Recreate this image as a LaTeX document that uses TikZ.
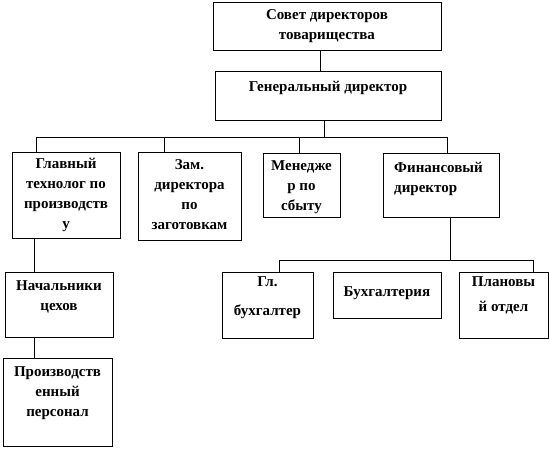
\documentclass[tikz,border=0pt]{standalone}
\usepackage{fontspec}
\setmainfont{Liberation Serif}

\begin{document}
\begin{tikzpicture}[x=1pt,y=-1pt,
  unit/.style={draw,line width=0.8pt,inner sep=0pt},
  lbl/.style={font=\bfseries\fontsize{15}{20}\selectfont,align=center,inner sep=0pt},
  link/.style={line width=0.8pt}]

\useasboundingbox (0,0) rectangle (549,449);

%Top level
\node[unit,minimum width=228pt,minimum height=48pt,
  label={[lbl]center:Совет директоров\\товарищества}] (sovet) at (327,26) {};
\node[unit,minimum width=226pt,minimum height=49pt,
  label={[lbl,yshift=7.5pt]center:Генеральный директор}] (gen) at (328,95.5) {};

%Second level
\node[unit,minimum width=108pt,minimum height=86pt,
  label={[lbl]center:Главный\\технолог по\\производств\\у}] (glav) at (66,195) {};
\node[unit,minimum width=103pt,minimum height=88pt,
  label={[lbl,yshift=1pt]center:Зам.\\директора\\по\\заготовкам}] (zam) at (189.5,196) {};
\node[unit,minimum width=77pt,minimum height=64pt,
  label={[lbl,yshift=-2pt]center:Менедже\\р по\\сбыту}] (men) at (301.5,185) {};
\node[unit,minimum width=116pt,minimum height=64pt,
  label={[lbl,align=left,xshift=-2.5pt,yshift=6pt]center:Финансовый\\директор}] (fin) at (441,185) {};

%Production branch
\node[unit,minimum width=108pt,minimum height=65pt,
  label={[lbl,yshift=8pt]center:Начальники\\цехов}] (nach) at (59,304.5) {};
\node[unit,minimum width=109pt,minimum height=88pt,
  label={[lbl,yshift=9pt]center:Производств\\енный\\персонал}] (proizv) at (57.5,402) {};

%Finance branch
\node[unit,minimum width=91pt,minimum height=66pt,
  label={[lbl,yshift=7.5pt]center:Гл.\\[9pt]бухгалтер}] (gl) at (267.5,305) {};
\node[unit,minimum width=108pt,minimum height=46pt,
  label={[lbl,yshift=2pt]center:Бухгалтерия}] (buh) at (387,295) {};
\node[unit,minimum width=89pt,minimum height=66pt,
  label={[lbl,yshift=9.5pt]center:Плановы\\[5pt]й отдел}] (plan) at (503.5,305) {};

%Links from the top
\draw[link] ([xshift=-6.5pt]sovet.south) -- ([xshift=-6.5pt]sovet.south |- gen.north);
\coordinate (bus) at (324,137);
\draw[link] (gen.south -| bus) -- (bus);
\coordinate (d1) at (36,137);
\coordinate (d2) at (164,137);
\coordinate (d3) at (299,137);
\coordinate (d4) at (447,137);
\draw[link] (d1) -- (d4);
\foreach \d/\b in {d1/glav,d2/zam,d3/men,d4/fin}
  \draw[link] (\d) -- (\d |- \b.north);

%Links under the technologist
\coordinate (chain) at (34,0);
\draw[link] (glav.south -| chain) -- (nach.north -| chain);
\draw[link] (nach.south -| chain) -- (proizv.north -| chain);

%Links under the finance director
\coordinate (fbus) at (450,260);
\draw[link] (fin.south -| fbus) -- (fbus);
\coordinate (e1) at (279,260);
\coordinate (e2) at (533,260);
\draw[link] (e1) -- (e2);
\foreach \e/\b in {e1/gl,e2/plan}
  \draw[link] (\e) -- (\e |- \b.north);

\end{tikzpicture}
\end{document}
